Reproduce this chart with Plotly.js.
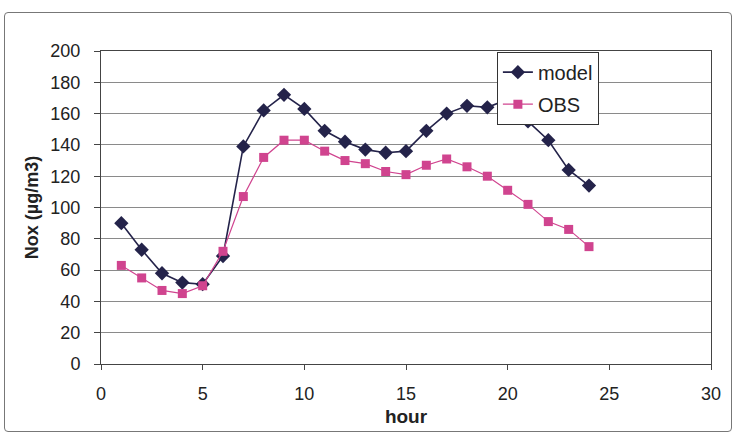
<!DOCTYPE html>
<html>
<head>
<meta charset="utf-8">
<script src="https://cdn.plot.ly/plotly-3.0.1.min.js"></script>
<style>
html,body{margin:0;padding:0;background:#fff;}
#frame{position:absolute;left:4px;top:12px;width:728px;height:420px;border:1px solid #777;border-radius:4px;box-sizing:border-box;}
#chart{position:absolute;left:0;top:0;width:736px;height:439px;}
</style>
</head>
<body>
<div id="frame"></div>
<div id="chart"></div>
<script>
const hours = [1,2,3,4,5,6,7,8,9,10,11,12,13,14,15,16,17,18,19,20,21,22,23,24];
const model = [90,73,58,52,51,69,139,162,172,163,149,142,137,135,136,149,160,165,164,169,155,143,124,114];
const obs   = [63,55,47,45,50,72,107,132,143,143,136,130,128,123,121,127,131,126,120,111,102,91,86,75];
const xTicks = [0,5,10,15,20,25,30];
const yTicks = [0,20,40,60,80,100,120,140,160,180,200];

const traces = [
  {x: hours, y: model, name: 'model', mode: 'lines+markers', legendgroup: 'a',
   line: {color: '#24234a', width: 1.6},
   marker: {symbol: 'diamond', size: 11, color: '#24234a'}},
  {x: hours, y: obs, name: 'OBS', mode: 'lines+markers', legendgroup: 'b',
   line: {color: '#d0448f', width: 1.2},
   marker: {symbol: 'square', size: 9, color: '#d0448f'}}
];

const layout = {
  width: 736, height: 439,
  margin: {l: 101, r: 25, t: 51, b: 75},
  paper_bgcolor: 'rgba(0,0,0,0)',
  plot_bgcolor: '#ffffff',
  font: {family: 'Liberation Sans, Arial, sans-serif', color: '#222', size: 18},
  showlegend: true,
  legend: {x: 0.649, xanchor: 'left', y: 0.998, yanchor: 'top',
           bgcolor: '#ffffff', bordercolor: '#333', borderwidth: 1,
           font: {size: 20, color: '#222'}, tracegroupgap: 3,
           entrywidth: 110, entrywidthmode: 'pixels'},
  xaxis: {range: [0, 30], tickvals: xTicks, ticktext: xTicks.map(String),
          showgrid: false, zeroline: false, showline: true, linecolor: '#444', linewidth: 1,
          mirror: true, ticks: 'outside', ticklen: 5, tickcolor: '#444',
          tickfont: {size: 18}, ticklabelstandoff: 8,
          title: {text: '<b>hour</b>', font: {size: 19}, standoff: 7}},
  yaxis: {range: [0, 200], tickvals: yTicks, ticktext: yTicks.map(String),
          showgrid: true, gridcolor: '#8a8a8a', gridwidth: 1, zeroline: false,
          showline: true, linecolor: '#444', linewidth: 1, mirror: true,
          ticks: 'outside', ticklen: 6, tickcolor: '#444',
          tickfont: {size: 18}, ticklabelstandoff: 10,
          title: {text: '<b>Nox (µg/m3)</b>', font: {size: 18}, standoff: 7}}
};

Plotly.newPlot('chart', traces, layout, {displayModeBar: false, staticPlot: true});
</script>
</body>
</html>
